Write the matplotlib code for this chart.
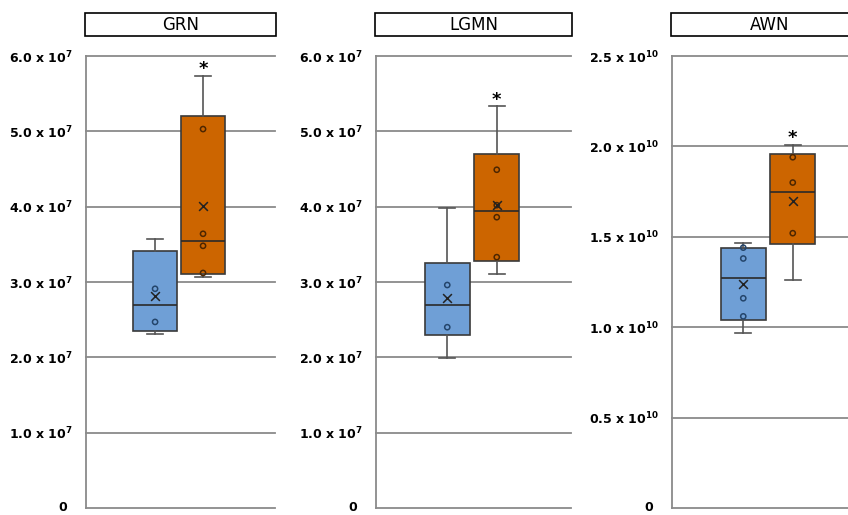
import matplotlib
matplotlib.use("Agg")
import matplotlib.pyplot as plt
from matplotlib.patches import Rectangle
from matplotlib.transforms import ScaledTranslation

# panel titles
genes = ["GRN", "LGMN", "AWN"]

# five-number summaries per group: whisker low, Q1, median, Q3, whisker high
grn_blue = [2.31e7, 2.35e7, 2.70e7, 3.41e7, 3.57e7]
grn_orange = [3.07e7, 3.11e7, 3.55e7, 5.21e7, 5.74e7]
lgmn_blue = [1.99e7, 2.30e7, 2.70e7, 3.25e7, 3.98e7]
lgmn_orange = [3.11e7, 3.28e7, 3.94e7, 4.70e7, 5.33e7]
awn_blue = [0.97e10, 1.04e10, 1.27e10, 1.44e10, 1.466e10]
awn_orange = [1.26e10, 1.46e10, 1.75e10, 1.96e10, 2.01e10]

# means (blue, orange)
grn_means = [2.82e7, 4.01e7]
lgmn_means = [2.79e7, 4.02e7]
awn_means = [1.24e10, 1.70e10]

# individual points shown inside the boxes
grn_pts_blue = [2.91e7, 2.47e7]
grn_pts_orange = [5.03e7, 3.64e7, 3.48e7, 3.12e7]
lgmn_pts_blue = [2.96e7, 2.40e7]
lgmn_pts_orange = [4.49e7, 4.02e7, 3.86e7, 3.33e7]
awn_pts_blue = [1.44e10, 1.38e10, 1.16e10, 1.06e10]
awn_pts_orange = [1.94e10, 1.80e10, 1.52e10]

# y ticks
ticks_e7 = [0, 1e7, 2e7, 3e7, 4e7, 5e7, 6e7]
labels_e7 = ["0", "1.0 x 10$^{7}$", "2.0 x 10$^{7}$", "3.0 x 10$^{7}$",
             "4.0 x 10$^{7}$", "5.0 x 10$^{7}$", "6.0 x 10$^{7}$"]
ticks_e10 = [0, 0.5e10, 1.0e10, 1.5e10, 2.0e10, 2.5e10]
labels_e10 = ["0", "0.5 x 10$^{10}$", "1.0 x 10$^{10}$", "1.5 x 10$^{10}$",
              "2.0 x 10$^{10}$", "2.5 x 10$^{10}$"]

BLUE = "#6f9fd6"
ORANGE = "#cc6500"
GRID = "#8a8a8a"

plt.rcParams["font.family"] = "DejaVu Sans"
plt.rcParams["mathtext.fontset"] = "dejavusans"
plt.rcParams["mathtext.default"] = "bf"


def make_stats(summary, mean):
    lo, q1, med, q3, hi = summary
    return {"whislo": lo, "q1": q1, "med": med, "q3": q3, "whishi": hi,
            "mean": mean, "fliers": []}


def draw_panel(fig, ax, title, blue, orange, means, pts_blue, pts_orange, ticks, labels):
    stats = [make_stats(blue, means[0]), make_stats(orange, means[1])]
    bp = ax.bxp(stats, positions=[1, 2], widths=0.9, patch_artist=True,
                showfliers=False, capwidths=0.33,
                boxprops=dict(edgecolor="#3a3a3a", linewidth=1.2),
                medianprops=dict(color="#2a2a2a", linewidth=1.2),
                whiskerprops=dict(color="#555555", linewidth=1.2),
                capprops=dict(color="#555555", linewidth=1.2))
    bp["boxes"][0].set_facecolor(BLUE)
    bp["boxes"][1].set_facecolor(ORANGE)

    ax.scatter([1] * len(pts_blue), pts_blue, s=14, facecolors="none",
               edgecolors="#24456b", linewidths=1.1, zorder=4)
    ax.scatter([2] * len(pts_orange), pts_orange, s=14, facecolors="none",
               edgecolors="#4d2600", linewidths=1.1, zorder=4)
    ax.scatter([1, 2], means, marker="x", s=40, color="#222222",
               linewidths=1.1, zorder=5)

    # significance star above the orange whisker
    ax.annotate("*", (2, orange[4]), xytext=(0, -2), textcoords="offset points",
                ha="center", va="bottom", fontsize=13, fontweight="bold")

    ax.set_xlim(-0.44, 3.5)
    ax.set_ylim(ticks[0], ticks[-1])
    ax.set_yticks(ticks)
    ax.set_yticklabels(labels)
    for lab in ax.get_yticklabels():
        lab.set_fontsize(9)
        lab.set_fontweight("bold")
    ax.tick_params(axis="y", length=0, pad=9.5)
    # the "0" label sits a little further left, kept inside the figure
    zero = ax.get_yticklabels()[0]
    zero.set_transform(zero.get_transform() +
                       ScaledTranslation(-4 / 72, 1.5 / 72, fig.dpi_scale_trans))
    ax.set_xticks([])
    ax.yaxis.grid(True, color=GRID, linewidth=1.3)
    for gl in ax.yaxis.get_gridlines():
        gl.set_clip_on(False)
    ax.set_axisbelow(True)
    for side in ["top", "right", "bottom"]:
        ax.spines[side].set_visible(False)
    ax.spines["left"].set_color(GRID)
    ax.spines["left"].set_linewidth(1.3)

    # title box
    ax.add_patch(Rectangle((-0.005, 1.044), 1.01, 0.051, transform=ax.transAxes,
                           facecolor="white", edgecolor="black", linewidth=1.2,
                           clip_on=False))
    ax.text(0.5, 1.0695, title, transform=ax.transAxes, ha="center",
            va="center", fontsize=12)


fig = plt.figure(figsize=(8.48, 5.15), dpi=100)
bottom = 7 / 515
height = 452 / 515
ax1 = fig.add_axes([86 / 848, bottom, 189 / 848, height])
ax2 = fig.add_axes([376 / 848, bottom, 195 / 848, height])
ax3 = fig.add_axes([672 / 848, bottom, 195 / 848, height])

draw_panel(fig, ax1, genes[0], grn_blue, grn_orange, grn_means,
           grn_pts_blue, grn_pts_orange, ticks_e7, labels_e7)
draw_panel(fig, ax2, genes[1], lgmn_blue, lgmn_orange, lgmn_means,
           lgmn_pts_blue, lgmn_pts_orange, ticks_e7, labels_e7)
draw_panel(fig, ax3, genes[2], awn_blue, awn_orange, awn_means,
           awn_pts_blue, awn_pts_orange, ticks_e10, labels_e10)

fig.savefig("out.png", dpi=100)
